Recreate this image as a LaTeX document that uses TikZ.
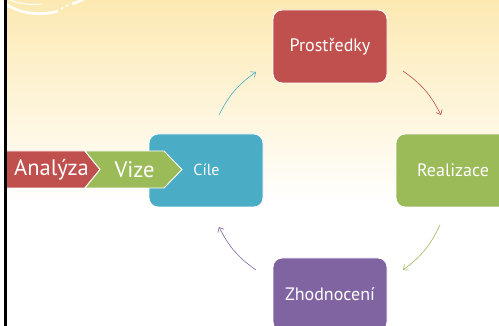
\documentclass[tikz,border=0pt]{standalone}
\usepackage{fontspec}
\setmainfont{PT Sans}
\usetikzlibrary{arrows.meta}
\definecolor{bgtop}{RGB}{252,233,178}
\definecolor{cred}{RGB}{192,80,77}
\definecolor{cgreen}{RGB}{155,187,89}
\definecolor{cblue}{RGB}{75,172,198}
\definecolor{cpurple}{RGB}{128,100,162}
\tikzset{
  box/.style={draw=white, line width=0.9pt, rounded corners=9pt, minimum width=114pt, minimum height=73pt, inner sep=0pt, text=white, font=\fontsize{18}{20}\selectfont},
  chev/.style={draw=white, line width=0.9pt},
  chevtext/.style={text=white, inner sep=0pt, font=\fontsize{22.5}{25}\selectfont},
  flow/.style={line width=0.6pt, -{Straight Barb[length=4pt,width=7pt]}}
}
\begin{document}
\begin{tikzpicture}[x=1pt,y=-1pt]
\useasboundingbox (0,0) rectangle (499,326);
\begin{scope}
\clip (0,0) rectangle (499,326);
\fill[white] (0,0) rectangle (499,326);
\shade[top color=bgtop, bottom color=white] (0,0) rectangle (499,205);
% decorative arcs
\draw[white, line width=2.5pt] (6,4) .. controls (20,14) and (42,16) .. (58,11);
\draw[white, line width=1.5pt] (61,9) -- (63,7.5) (66,6.5) -- (68,5);
\draw[white, line width=2.5pt] (72,4) .. controls (78,2) and (82,0) .. (86,-2);
\draw[white, line width=1pt] (8,-1) .. controls (18,4) and (30,5) .. (42,4);
% boxes
\node[box, fill=cred] (pros) at (330,46.5) {Prostředky};
\node[box, fill=cgreen] (real) at (453,170.5) {Realizace};
\node[box, fill=cpurple] (zhod) at (330,294.5) {Zhodnocení};
\node[box, fill=cblue] (cile) at (206,170.5) {};
\node[text=white, inner sep=0pt, font=\fontsize{16}{18}\selectfont] (ciletext) at (206.5,169.5) {Cíle};
% chevrons
\draw[chev, fill=cred] (0,151) -- (85,151) -- (100,169.5) -- (85,188) -- (0,188) -- cycle;
\draw[chev, fill=cgreen] (85,151) -- (164,151) -- (182,169.5) -- (164,188) -- (85,188) -- (100,169.5) -- cycle;
\node[chevtext] (analyza) at (51.5,169.5) {Analýza};
\node[chevtext] (vize) at (134.5,169.5) {Vize};
% arrows
\coordinate (a1s) at (219,115); \coordinate (a1e) at (256,72);
\coordinate (a2s) at (403,71);  \coordinate (a2e) at (441,115);
\coordinate (a3s) at (440,225); \coordinate (a3e) at (403,270);
\coordinate (a4s) at (256,270); \coordinate (a4e) at (219,227);
\draw[flow, cblue] (a1s) to[bend left=14] (a1e);
\draw[flow, cred] (a2s) to[bend left=14] (a2e);
\draw[flow, cgreen] (a3s) to[bend left=14] (a3e);
\draw[flow, cpurple] (a4s) to[bend left=14] (a4e);
% left margin and border line
\fill[white] (0,0) rectangle (4.3,326);
\draw[black, line width=2.4pt] (5.5,0) -- (5.5,326);
\end{scope}
\end{tikzpicture}
\end{document}
